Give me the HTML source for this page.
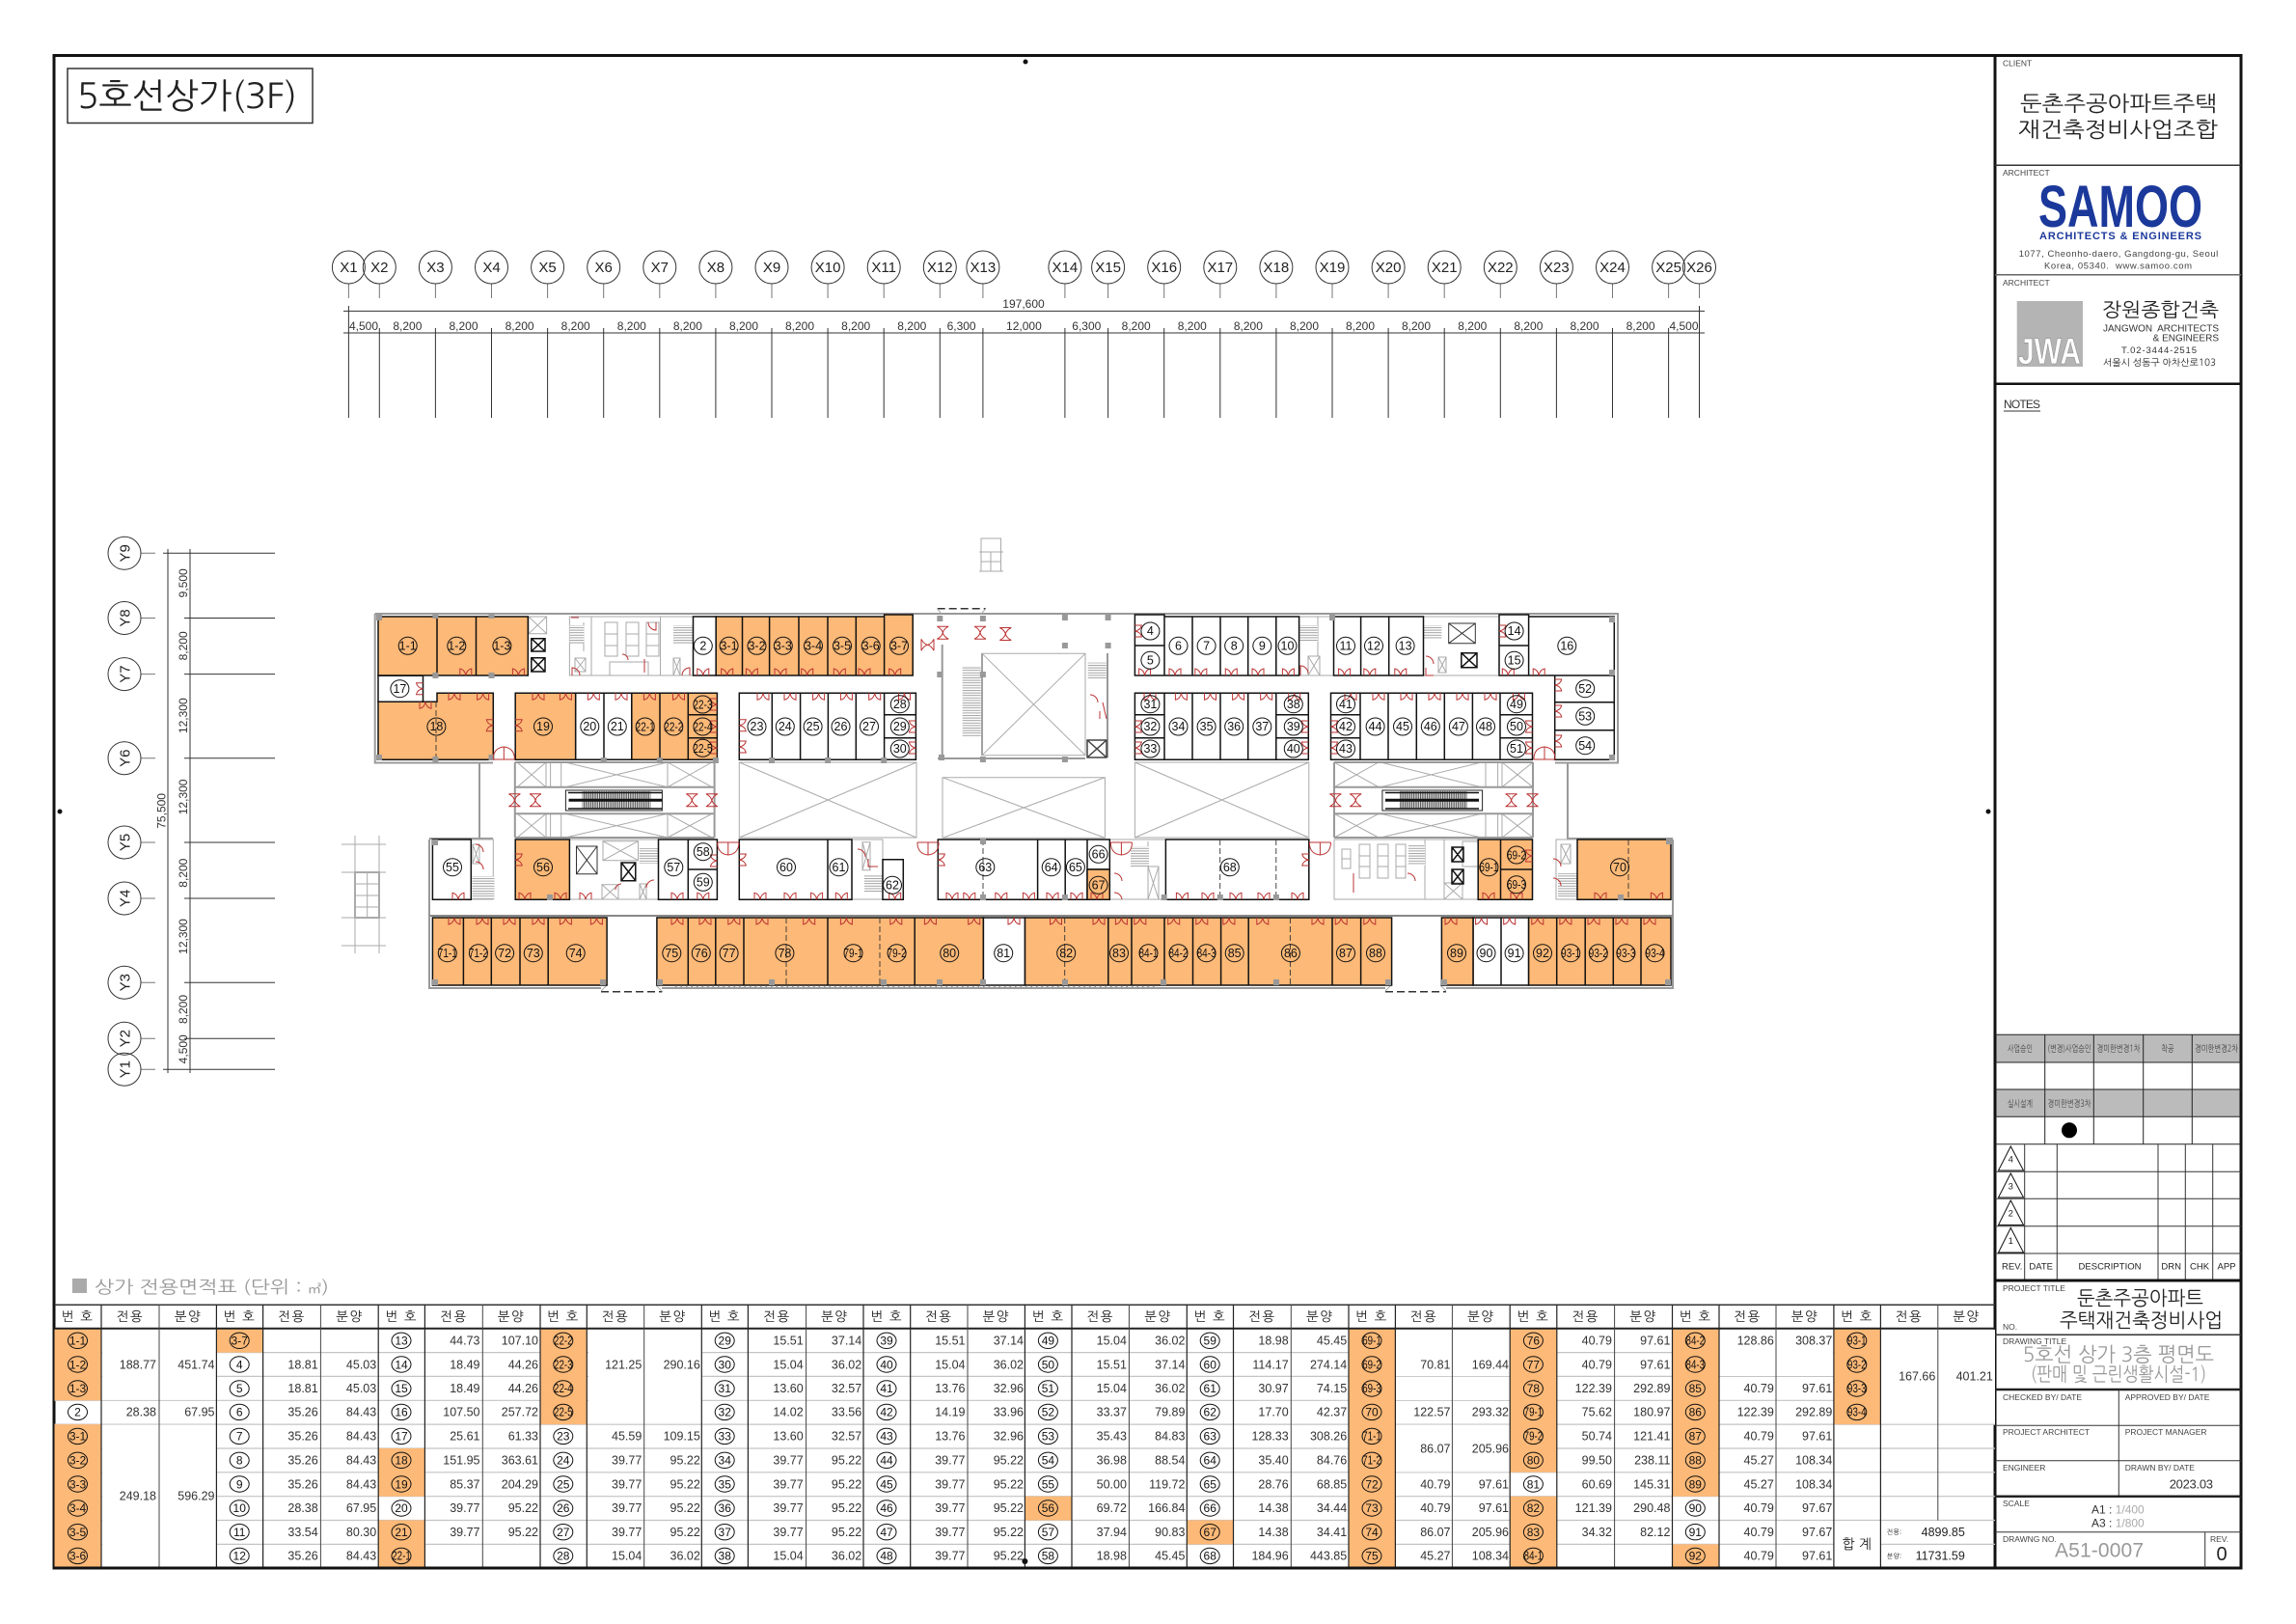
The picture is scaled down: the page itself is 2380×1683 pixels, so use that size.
<!DOCTYPE html>
<html lang="ko"><head><meta charset="utf-8"><title>5호선상가(3F)</title>
<style>
html,body{margin:0;padding:0;background:#fff}
svg{display:block}
text{font-family:"Liberation Sans","NanumGothic","Noto Sans CJK KR",sans-serif;fill:#222}
.k{font-family:"NanumGothic","Noto Sans CJK KR","Liberation Sans",sans-serif}
.g{stroke:#aaa;fill:none;stroke-width:1}
.g2{stroke:#999;fill:none;stroke-width:2}
.b{stroke:#333;fill:none;stroke-width:1}
.o{fill:#fdb977;stroke:#111;stroke-width:1.5}
.w{fill:#fff;stroke:#111;stroke-width:1.5}
.r{fill:none;stroke:#b33;stroke-width:1}
.d{fill:none;stroke:#333;stroke-width:.9;stroke-dasharray:6 3}
.n text{font-size:12.5px;text-anchor:middle;fill:#111}
.n .s{font-size:13px;transform:scaleX(.77);transform-box:fill-box;transform-origin:center}
.xb text{font-size:15px;text-anchor:middle;fill:#222}
.dm text{font-size:12px;text-anchor:middle;fill:#333}
.l text{font-size:12px;text-anchor:middle;fill:#111}
.l .s{font-size:12.5px;transform:scaleX(.78);transform-box:fill-box;transform-origin:center}
.v text{font-size:12.5px;text-anchor:end;fill:#333}
.h{font-size:13.5px;text-anchor:middle;fill:#222;letter-spacing:1.5px}
.t{font-size:8.5px;fill:#444}
.m{font-size:9.5px;text-anchor:middle;fill:#444}
</style></head><body>
<svg xmlns="http://www.w3.org/2000/svg" width="2380" height="1683" viewBox="0 0 2380 1683">
<defs>
<ellipse id="c" rx="9.5" ry="9" fill="none" stroke="#111" stroke-width="1"/>
<ellipse id="e" rx="10" ry="8.2" fill="none" stroke="#111" stroke-width="1"/>
<g id="ten"><use href="#e" y="1389.3"/><use href="#e" y="1414"/><use href="#e" y="1439"/><use href="#e" y="1463.4"/><use href="#e" y="1488.4"/><use href="#e" y="1513.3"/><use href="#e" y="1538"/><use href="#e" y="1563"/><use href="#e" y="1587.7"/><use href="#e" y="1612.4"/></g>
<path id="D" class="r" d="M-6 0V-7Q-1-6 0 0Q1-6 6-7V0"/>
<path id="U" class="r" d="M-6 0V7Q-1 6 0 0Q1 6 6 7V0"/>
<path id="W" class="r" d="M-11 0H11M-11 0V-2Q-10-12 0-13V0M11 0V-2Q10-12 0-13"/>
<path id="W2" class="r" d="M-11 0H11M-11 0V2Q-10 12 0 13V0M11 0V2Q10 12 0 13"/>
<path id="B" class="r" d="M-6-6.5H6M-6 6.5H6M-6-6.5Q-1-4 0 0Q1 4 6 6.5M6-6.5Q1-4 0 0Q-1 4-6 6.5"/>
<rect id="p" x="-3" y="-3" width="6" height="6" fill="#999"/>
<pattern id="hs" width="4" height="2.6" patternUnits="userSpaceOnUse"><rect width="4" height="2.6" fill="#fff"/><path d="M0 .5H4" stroke="#999" stroke-width=".9"/></pattern>
<pattern id="vs" width="2.3" height="4" patternUnits="userSpaceOnUse"><rect width="2.3" height="4" fill="#ddd"/><path d="M.6 0V4" stroke="#444" stroke-width="1"/></pattern>
</defs>

<!-- frame -->
<rect x="56" y="57.5" width="2267" height="1567.5" fill="#fff" stroke="#111" stroke-width="3"/>
<path d="M2068 57V1625" stroke="#111" stroke-width="3"/>
<circle cx="1063" cy="64" r="2.5" fill="#111"/><circle cx="62" cy="841" r="2.5" fill="#111"/><circle cx="2061" cy="841" r="2.5" fill="#111"/>

<!-- title -->
<rect x="70" y="71" width="254" height="56.5" fill="#fff" stroke="#333" stroke-width="1.5"/>
<text x="80" y="112" font-size="36" textLength="228" lengthAdjust="spacingAndGlyphs" class="k">5호선상가(3F)</text>

<!-- X grid -->
<g class="b">
<path d="M361.4 294V309M393.3 294V309M451.4 294V309M509.5 294V309M567.6 294V309M625.7 294V309M683.8 294V309M741.9 294V309M800 294V309M858.1 294V309M916.2 294V309M974.3 294V309M1018.9 294V309M1103.9 294V309M1148.6 294V309M1206.7 294V309M1264.8 294V309M1322.9 294V309M1381 294V309M1439.1 294V309M1497.2 294V309M1555.3 294V309M1613.4 294V309M1671.5 294V309M1729.6 294V309M1761.5 294V309" stroke="#777"/>
<path d="M356 322.4H1767M356 345H1767"/>
<path d="M361.4 317V433M1761.5 317V433M393.3 340V433M451.4 340V433M509.5 340V433M567.6 340V433M625.7 340V433M683.8 340V433M741.9 340V433M800 340V433M858.1 340V433M916.2 340V433M974.3 340V433M1018.9 340V433M1103.9 340V433M1148.6 340V433M1206.7 340V433M1264.8 340V433M1322.9 340V433M1381 340V433M1439.1 340V433M1497.2 340V433M1555.3 340V433M1613.4 340V433M1671.5 340V433M1729.6 340V433"/>
</g>
<g fill="#fff" stroke="#333" stroke-width="1"><circle cx="361.4" cy="277" r="17"/><circle cx="393.3" cy="277" r="17" fill="none"/><circle cx="451.4" cy="277" r="17"/><circle cx="509.5" cy="277" r="17"/><circle cx="567.6" cy="277" r="17"/><circle cx="625.7" cy="277" r="17"/><circle cx="683.8" cy="277" r="17"/><circle cx="741.9" cy="277" r="17"/><circle cx="800" cy="277" r="17"/><circle cx="858.1" cy="277" r="17"/><circle cx="916.2" cy="277" r="17"/><circle cx="974.3" cy="277" r="17"/><circle cx="1018.9" cy="277" r="17"/><circle cx="1103.9" cy="277" r="17"/><circle cx="1148.6" cy="277" r="17"/><circle cx="1206.7" cy="277" r="17"/><circle cx="1264.8" cy="277" r="17"/><circle cx="1322.9" cy="277" r="17"/><circle cx="1381" cy="277" r="17"/><circle cx="1439.1" cy="277" r="17"/><circle cx="1497.2" cy="277" r="17"/><circle cx="1555.3" cy="277" r="17"/><circle cx="1613.4" cy="277" r="17"/><circle cx="1671.5" cy="277" r="17"/><circle cx="1729.6" cy="277" r="17"/><circle cx="1761.5" cy="277" r="17" fill="none"/></g>
<g class="xb"><text x="361.4" y="282">X1</text><text x="393.3" y="282">X2</text><text x="451.4" y="282">X3</text><text x="509.5" y="282">X4</text><text x="567.6" y="282">X5</text><text x="625.7" y="282">X6</text><text x="683.8" y="282">X7</text><text x="741.9" y="282">X8</text><text x="800" y="282">X9</text><text x="858.1" y="282">X10</text><text x="916.2" y="282">X11</text><text x="974.3" y="282">X12</text><text x="1018.9" y="282">X13</text><text x="1103.9" y="282">X14</text><text x="1148.6" y="282">X15</text><text x="1206.7" y="282">X16</text><text x="1264.8" y="282">X17</text><text x="1322.9" y="282">X18</text><text x="1381" y="282">X19</text><text x="1439.1" y="282">X20</text><text x="1497.2" y="282">X21</text><text x="1555.3" y="282">X22</text><text x="1613.4" y="282">X23</text><text x="1671.5" y="282">X24</text><text x="1729.6" y="282">X25</text><text x="1761.5" y="282">X26</text></g>
<g class="dm"><text x="1061" y="319">197,600</text><text x="377" y="342">4,500</text><text x="422.4" y="342">8,200</text><text x="480.5" y="342">8,200</text><text x="538.6" y="342">8,200</text><text x="596.7" y="342">8,200</text><text x="654.8" y="342">8,200</text><text x="712.9" y="342">8,200</text><text x="771" y="342">8,200</text><text x="829" y="342">8,200</text><text x="887.2" y="342">8,200</text><text x="945.3" y="342">8,200</text><text x="996.6" y="342">6,300</text><text x="1061.4" y="342">12,000</text><text x="1126.3" y="342">6,300</text><text x="1177.7" y="342">8,200</text><text x="1235.8" y="342">8,200</text><text x="1293.9" y="342">8,200</text><text x="1352" y="342">8,200</text><text x="1410" y="342">8,200</text><text x="1468" y="342">8,200</text><text x="1526.3" y="342">8,200</text><text x="1584.4" y="342">8,200</text><text x="1642.5" y="342">8,200</text><text x="1700.6" y="342">8,200</text><text x="1745.5" y="342">4,500</text></g>

<!-- Y grid -->
<g class="b"><path d="M191 573.3H285M191 640.5H285M191 698.6H285M191 785.7H285M191 873H285M191 931H285M191 1018.2H285M191 1076.2H285M169 1108.2H285M169 573.3H191M197 569V1112M174 569V1112"/>
<path d="M146 573.3H161M146 640.5H161M146 698.6H161M146 785.7H161M146 873H161M146 931H161M146 1018.2H161M146 1076.2H161M146 1108.2H161" stroke="#777"/></g>
<g fill="#fff" stroke="#333"><circle cx="129" cy="573.3" r="17"/><circle cx="129" cy="640.5" r="17"/><circle cx="129" cy="698.6" r="17"/><circle cx="129" cy="785.7" r="17"/><circle cx="129" cy="873" r="17"/><circle cx="129" cy="931" r="17"/><circle cx="129" cy="1018.2" r="17"/><circle cx="129" cy="1076.2" r="17"/><circle cx="129" cy="1108.2" r="17" fill="none"/></g>
<g class="xb"><text transform="translate(134.5 573.3) rotate(-90)">Y9</text><text transform="translate(134.5 640.5) rotate(-90)">Y8</text><text transform="translate(134.5 698.6) rotate(-90)">Y7</text><text transform="translate(134.5 785.7) rotate(-90)">Y6</text><text transform="translate(134.5 873) rotate(-90)">Y5</text><text transform="translate(134.5 931) rotate(-90)">Y4</text><text transform="translate(134.5 1018.2) rotate(-90)">Y3</text><text transform="translate(134.5 1076.2) rotate(-90)">Y2</text><text transform="translate(134.5 1108.2) rotate(-90)">Y1</text></g>
<g class="dm"><text transform="translate(194 604.3) rotate(-90)">9,500</text><text transform="translate(194 669.4) rotate(-90)">8,200</text><text transform="translate(194 741.7) rotate(-90)">12,300</text><text transform="translate(194 825.9) rotate(-90)">12,300</text><text transform="translate(194 904.7) rotate(-90)">8,200</text><text transform="translate(194 970.5) rotate(-90)">12,300</text><text transform="translate(194 1046) rotate(-90)">8,200</text><text transform="translate(194 1087.3) rotate(-90)">4,500</text><text transform="translate(171.5 840.4) rotate(-90)">75,500</text></g>

<!-- small structures -->
<g class="g"><path d="M368 866V988M393 866V988M354 875H400M354 980H400M354 904H400M354 951H400"/><path d="M380.7 904V951M368 916H393M368 928H393M368 940H393"/><rect x="368" y="904" width="25" height="47" stroke-width="2"/>
<path d="M1017 558H1037.5V592H1017ZM1015 572H1040M1015 592H1040M1027 572V592M1017 582H1037"/></g>

<!-- building outline -->
<g class="g2">
<path d="M388.7 636H1677V790.5H1612M511 790.5H388.7V636"/>
<path d="M497 790V870M1625 790V870M445 870V1024H623M686 1024H1436M1499 1024H1734V870M1625 869H1734M445 869H511"/>
<path d="M445 949H1734" stroke="#888"/>
<path d="M976.7 668V785M1018 677V783M1148 677V785M972 786H1125"/>
</g>
<path d="M623 1027.7H686.4M1436 1027.7H1499M971.7 630.7H1021.7" stroke="#333" stroke-width="1.5" stroke-dasharray="8 4"/>
<path d="M629 1021L623 1027M680 1021L686 1027M1442 1021L1436 1027M1493 1021L1499 1027M976 636L971.7 631M1017 636L1021.7 631" class="g"/>

<!-- atria -->
<g class="g">
<path d="M766.3 790H950V868H766.3ZM766.3 790L950 868M950 790L766.3 868"/>
<path d="M977 805.7H1145.4V868.3H977ZM977 805.7L1145.4 868.3M1145.4 805.7L977 868.3"/>
<path d="M1176.4 790H1356.8V868H1176.4ZM1176.4 790L1356.8 868M1356.8 790L1176.4 868"/>
<path d="M1018 677.3H1125V782.7H1018ZM1018 677.3L1125 782.7M1125 677.3L1018 782.7"/>
<path d="M536 790L566 815.7M566 790L536 815.7M536 843.3L566 868M566 843.3L536 868M586 790L692 815.7M692 790L586 815.7M586 843.3L692 868M692 843.3L586 868M692 790L738 815.7M738 790L692 815.7M692 843.3L738 868M738 843.3L692 868M566 790V816M570.6 790V816M581.7 790V816M566 843V868M570.6 843V868M581.7 843V868M692 790V816M692 843V868"/>
<path d="M1383 790L1429 815.7M1429 790L1383 815.7M1383 843.3L1429 868M1429 843.3L1383 868M1431 790L1535.6 815.7M1535.6 790L1431 815.7M1431 843.3L1535.6 868M1535.6 843.3L1431 868M1557 790L1589 815.7M1589 790L1557 815.7M1557 843.3L1589 868M1589 843.3L1557 868M1540 790V816M1552.6 790V816M1557 790V816M1540 843V868M1552.6 843V868M1557 843V868"/>
</g>
<g class="g2">
<path d="M533.8 790H740.6M533.8 815.7H740.6M533.8 843.3H740.6M533.8 868H740.6M533.8 790V868M740.6 790V868"/>
<path d="M1383 790H1589M1383 815.7H1589M1383 843.3H1589M1383 868H1589M1383 790V868M1589 790V868"/>
</g>
<!-- escalators -->
<rect x="586.4" y="819" width="100" height="21" fill="#fff" stroke="#222"/><rect x="603.4" y="820" width="71" height="18" fill="url(#vs)"/><path d="M589.6 829.3H686.4M589 821.5H686M589 838H686" stroke="#111" stroke-width="1.5"/><path d="M589.6 829.3H686.4" stroke="#111" stroke-width="3"/>
<rect x="1432.9" y="819" width="103.7" height="21" fill="#fff" stroke="#222"/><rect x="1450.8" y="820" width="70" height="18" fill="url(#vs)"/><path d="M1436 829.3H1533M1436 821.5H1533M1436 838H1533" stroke="#111" stroke-width="1.5"/><path d="M1436 829.3H1533" stroke="#111" stroke-width="3"/>

<!-- core details -->
<g class="g">
<path d="M548 639H566.6V656.7H548ZM548 639L566.6 656.7M566.6 639L548 656.7"/>
<path d="M590.4 639H718.5V700H590.4ZM613 639V700M684.5 639V700"/>
<path d="M627 645H640V680H627ZM649 645H662V680H649ZM670 645H683V680H670ZM627 657H640M627 669H640M649 657H662M649 669H662M670 657H683M670 669H683"/>
<path d="M605 645V675M596 682H607V696H596ZM596 682L607 696M607 682L596 696M698 682H705V700H698ZM698 682L705 700M705 682L698 700M632 686H672V700H632Z"/>
<path d="M625 871.7H661.5V891.7H625ZM625 871.7L661.5 891.7M661.5 871.7L625 891.7M624 916.7H641V932H624ZM624 916.7L641 932M641 916.7L624 932M663 916H670V932H663ZM663 916L670 932M670 916L663 932M590.4 870H682.5V932H590.4Z"/>
<path d="M488.3 870H511.3V932H488.3ZM490 875H497V895H490ZM490 875L497 895M497 875L490 895"/>
<path d="M883 870H915V932H883ZM894 872.7H902V901.7H894ZM894 872.7L902 901.7M902 872.7L894 901.7"/>
<path d="M1346.6 639H1382.5V700H1346.6ZM1356 680H1368V700H1356ZM1356 680L1368 700M1368 680L1356 700M1366 639V680"/>
<path d="M1475.5 639H1554V700H1475.5ZM1491 681H1499V697H1491ZM1491 681L1499 697M1499 681L1491 697"/>
<path d="M1150.3 870H1208.4V932H1150.3ZM1190 872V932M1190 898H1201V932H1190ZM1190 898L1201 932M1201 898L1190 932"/>
<path d="M1383 870H1532.2V932H1383ZM1497 870V932M1477 870V932M1391 880H1400V900H1391ZM1409 875H1420V910H1409ZM1428 875H1439V910H1428ZM1447 875H1457V910H1447ZM1409 887H1420M1409 898H1420M1428 887H1439M1428 898H1439M1447 887H1457M1447 898H1457M1391 890H1400"/>
<path d="M1497 915H1516V932H1497ZM1497 915L1516 932M1516 915L1497 932M1516 872H1532V898H1516Z"/>
<path d="M1613 870H1635V932H1613ZM1618 875H1628V895H1618ZM1618 875L1628 895M1628 875L1618 895"/>
</g>
<rect x="590.4" y="648" width="15" height="18.7" fill="url(#hs)"/><rect x="698" y="648" width="20" height="18.7" fill="url(#hs)"/>
<rect x="662.7" y="879" width="19.8" height="16" fill="url(#hs)"/><rect x="489.5" y="908" width="23" height="23.7" fill="url(#hs)"/>
<rect x="896" y="906.7" width="19" height="18.3" fill="url(#hs)"/><rect x="1347" y="648" width="19" height="17" fill="url(#hs)"/><rect x="1476" y="648" width="18.4" height="15" fill="url(#hs)"/>
<rect x="997.7" y="690" width="19" height="73.3" fill="url(#hs)"/><rect x="1127.7" y="686.7" width="19" height="16.3" fill="url(#hs)"/>
<rect x="1172" y="877" width="19" height="21" fill="url(#hs)"/><rect x="1460" y="875" width="17" height="22" fill="url(#hs)"/><rect x="1615" y="905" width="20" height="25" fill="url(#hs)"/>
<g class="b">
<path d="M550.8 661.7H565V675H550.8ZM550.8 661.7L565 675M565 661.7L550.8 675M550.8 681.7H565V696H550.8ZM550.8 681.7L565 696M565 681.7L550.8 696" stroke="#111" stroke-width="1.5"/>
<path d="M597.5 877H619V905.7H597.5ZM597.5 877L619 905.7M619 877L597.5 905.7" stroke="#333"/>
<path d="M644 894H658.8V912.7H644ZM644 894L658.8 912.7M658.8 894L644 912.7" stroke="#111" stroke-width="1.5"/>
<path d="M1501.7 646H1529.3V666.7H1501.7ZM1501.7 646L1529.3 666.7M1529.3 646L1501.7 666.7" stroke="#333"/>
<path d="M1514.8 676.7H1531V691.7H1514.8ZM1514.8 676.7L1531 691.7M1531 676.7L1514.8 691.7" stroke="#111" stroke-width="1.5"/>
<path d="M1127 767H1147V785H1127ZM1127 767L1147 785M1147 767L1127 785" stroke="#444" stroke-width="1.5"/>
<path d="M1505 878H1517V893H1505ZM1505 878L1517 893M1517 878L1505 893M1505 901H1517V916H1505ZM1505 901L1517 916M1517 901L1505 916" stroke="#111" stroke-width="1.5"/>
</g>

<!-- rooms -->
<path class="o" d="M392 639H453V700H392ZM453 639H493.5V700H453ZM493.5 639H547.3V700H493.5Z"/>
<path class="w" d="M392 700.3H438.5V727.3H392ZM718.5 639H742.2V700H718.5Z"/>
<path class="o" d="M392 727.3H453V718.3H511.3V787.3H392ZM534.2 718.3H596.7V787.3H534.2Z"/>
<path class="w" d="M596.7 718.3H626V787.3H596.7ZM626 718.3H654.8V787.3H626Z"/>
<path class="o" d="M654.8 718.3H684V787.3H654.8ZM684 718.3H713.3V787.3H684ZM713.3 718.3H743.4V740.7H713.3ZM713.3 740.7H743.4V764.7H713.3ZM713.3 764.7H743.4V787.3H713.3Z"/>
<path class="w" d="M766.3 718.3H800.3V787.3H766.3ZM800.3 718.3H829.6V787.3H800.3ZM829.6 718.3H858.4V787.3H829.6ZM858.4 718.3H887.3V787.3H858.4ZM887.3 718.3H916.6V787.3H887.3ZM916.6 718.3H949.4V740.7H916.6ZM916.6 740.7H949.4V764.7H916.6ZM916.6 764.7H949.4V787.3H916.6Z"/>
<path class="o" d="M742.2 639H769.5V700H742.2ZM769.5 639H797.6V700H769.5ZM797.6 639H828V700H797.6ZM828 639H858V700H828ZM858 639H887.3V700H858ZM887.3 639H916.6V700H887.3ZM916.6 637H946.2V700H916.6Z"/>
<path class="w" d="M1176.4 637H1207V669H1176.4ZM1176.4 669H1207V700H1176.4ZM1207 639H1236V700H1207ZM1236 639H1265V700H1236ZM1265 639H1293.7V700H1265ZM1293.7 639H1322.8V700H1293.7ZM1322.8 639H1346.6V700H1322.8ZM1382.5 639H1410.6V700H1382.5ZM1410.6 639H1439.7V700H1410.6ZM1439.7 639H1475.5V700H1439.7ZM1554 637H1584.6V669H1554ZM1554 669H1584.6V700H1554ZM1584.6 639H1673.3V700H1584.6ZM1611.7 700H1673.3V727.7H1611.7ZM1611.7 727.7H1673.3V756.7H1611.7ZM1611.7 756.7H1673.3V787.3H1611.7Z"/>
<path class="w" d="M1176.4 718.3H1207V740.7H1176.4ZM1176.4 740.7H1207V764.7H1176.4ZM1176.4 764.7H1207V787.3H1176.4ZM1207 718.3H1236V787.3H1207ZM1236 718.3H1265V787.3H1236ZM1265 718.3H1293.7V787.3H1265ZM1293.7 718.3H1322.8V787.3H1293.7ZM1322.8 718.3H1356.3V740.7H1322.8ZM1322.8 740.7H1356.3V764.7H1322.8ZM1322.8 764.7H1356.3V787.3H1322.8ZM1379.5 718.3H1410V740.7H1379.5ZM1379.5 740.7H1410V764.7H1379.5ZM1379.5 764.7H1410V787.3H1379.5ZM1410 718.3H1439V787.3H1410ZM1439 718.3H1468.3V787.3H1439ZM1468.3 718.3H1497.3V787.3H1468.3ZM1497.3 718.3H1526.4V787.3H1497.3ZM1526.4 718.3H1555V787.3H1526.4ZM1555 718.3H1588.5V740.7H1555ZM1555 740.7H1588.5V764.7H1555ZM1555 764.7H1588.5V787.3H1555Z"/>
<path class="w" d="M448.4 870H488.3V932.3H448.4ZM682.5 870H713.3V932.3H682.5ZM713.3 870H743.4V901H713.3ZM713.3 901H743.4V932.3H713.3ZM766.3 870H858V932.3H766.3ZM858 870H883V932.3H858ZM915 890.7H936.3V932.3H915ZM972.3 870H1075.6V932.3H972.3ZM1075.6 870H1104.2V932.3H1075.6ZM1104.2 870H1127V932.3H1104.2ZM1127 870H1150.3V901H1127ZM1208.4 870H1356.8V932.3H1208.4Z"/>
<path class="o" d="M534.2 870H590.4V932.3H534.2ZM1127 901H1150.3V932.3H1127ZM1532.2 870H1555.5V932.3H1532.2ZM1555.5 870H1588.5V901H1555.5ZM1555.5 901H1588.5V932.3H1555.5ZM1635 870H1732V932.3H1635Z"/>
<path class="o" d="M448.4 951H480.4V1021H448.4ZM480.4 951H509.3V1021H480.4ZM509.3 951H539V1021H509.3ZM539 951H568.2V1021H539ZM568.2 951H629.1V1021H568.2ZM680.9 951H713.3V1021H680.9ZM713.3 951H741.8V1021H713.3ZM741.8 951H771V1021H741.8ZM771 951H858V1021H771ZM858 951H948.2V1021H858ZM948.2 951H1019.4V1021H948.2Z"/>
<path class="w" d="M1019.4 951H1062.5V1021H1019.4ZM1527 951H1556V1021H1527ZM1556 951H1584.6V1021H1556Z"/>
<path class="o" d="M1062.5 951H1148.8V1021H1062.5ZM1148.8 951H1173V1021H1148.8ZM1173 951H1207V1021H1173ZM1207 951H1236.5V1021H1207ZM1236.5 951H1265.6V1021H1236.5ZM1265.6 951H1294.2V1021H1265.6ZM1294.2 951H1381V1021H1294.2ZM1381 951H1410.6V1021H1381ZM1410.6 951H1442.6V1021H1410.6ZM1494.4 951H1527V1021H1494.4ZM1584.6 951H1613.7V1021H1584.6ZM1613.7 951H1643.2V1021H1613.7ZM1643.2 951H1672.3V1021H1643.2ZM1672.3 951H1701V1021H1672.3ZM1701 951H1732V1021H1701Z"/>
<path class="d" d="M452 727V787M912 951V1021M815 951V1021M1103.7 951V1021M1337.4 951V1021M1019 870V932M1264.7 870V932M1322.8 870V932M1688 870V932"/>

<!-- pillars -->
<g><use href="#p" x="393" y="640"/><use href="#p" x="451.4" y="638"/><use href="#p" x="509.5" y="638"/><use href="#p" x="451.4" y="700"/><use href="#p" x="509.5" y="700"/><use href="#p" x="393" y="785"/><use href="#p" x="451.4" y="787"/><use href="#p" x="509.5" y="785"/><use href="#p" x="625.7" y="788"/><use href="#p" x="683.8" y="788"/><use href="#p" x="741.9" y="788"/><use href="#p" x="800" y="788"/><use href="#p" x="858.1" y="788"/><use href="#p" x="916.2" y="788"/><use href="#p" x="974.3" y="641"/><use href="#p" x="1018.9" y="641"/><use href="#p" x="1103.9" y="640"/><use href="#p" x="1148.6" y="640"/><use href="#p" x="1103.9" y="669"/><use href="#p" x="1148.6" y="669"/><use href="#p" x="974.3" y="699"/><use href="#p" x="1018.9" y="699"/><use href="#p" x="976" y="785"/><use href="#p" x="1018.9" y="787"/><use href="#p" x="1103.9" y="787"/><use href="#p" x="451" y="873"/><use href="#p" x="570" y="930"/><use href="#p" x="1206.7" y="930"/><use href="#p" x="1264.8" y="930"/><use href="#p" x="1322.9" y="930"/><use href="#p" x="1019" y="930"/><use href="#p" x="1103.9" y="930"/><use href="#p" x="1019" y="872"/><use href="#p" x="1381" y="640"/><use href="#p" x="1671" y="642"/><use href="#p" x="1671" y="697"/><use href="#p" x="1671" y="785"/><use href="#p" x="1730" y="872"/><use href="#p" x="1680" y="930"/><use href="#p" x="451" y="1018"/><use href="#p" x="625" y="1018"/><use href="#p" x="684" y="1018"/><use href="#p" x="800" y="1018"/><use href="#p" x="916" y="1018"/><use href="#p" x="974" y="1018"/><use href="#p" x="1019" y="1018"/><use href="#p" x="1104" y="1018"/><use href="#p" x="1206" y="1018"/><use href="#p" x="1323" y="1018"/><use href="#p" x="1439" y="1018"/><use href="#p" x="1497" y="1018"/><use href="#p" x="1729" y="1018"/></g>
<path d="M700 1023H1200" stroke="#999" stroke-width="3" stroke-dasharray="1.5 4" fill="none"/>

<!-- doors -->
<g>
<use href="#D" x="482.8" y="700"/><use href="#D" x="537.4" y="700"/><use href="#D" x="728.8" y="700"/><use href="#D" x="753.7" y="700"/><use href="#D" x="779.4" y="700"/><use href="#D" x="809" y="700"/><use href="#D" x="836.7" y="700"/><use href="#D" x="870.3" y="700"/><use href="#D" x="896" y="700"/><use href="#D" x="927.7" y="700"/><use href="#D" x="1186.6" y="700"/><use href="#D" x="1218" y="700"/><use href="#D" x="1244.8" y="700"/><use href="#D" x="1276.3" y="700"/><use href="#D" x="1304" y="700"/><use href="#D" x="1335.4" y="700"/><use href="#D" x="1393.6" y="700"/><use href="#D" x="1419.8" y="700"/><use href="#D" x="1451.8" y="700"/><use href="#D" x="1563.3" y="700"/><use href="#D" x="1595.2" y="700"/>
<use href="#U" x="471" y="718.3"/><use href="#U" x="500.6" y="718.3"/><use href="#U" x="558" y="718.3"/><use href="#U" x="586.4" y="718.3"/><use href="#U" x="615.3" y="718.3"/><use href="#U" x="644" y="718.3"/><use href="#U" x="673.4" y="718.3"/><use href="#U" x="703.5" y="718.3"/><use href="#U" x="791" y="718.3"/><use href="#U" x="819" y="718.3"/><use href="#U" x="848.6" y="718.3"/><use href="#U" x="877.4" y="718.3"/><use href="#U" x="906.7" y="718.3"/><use href="#U" x="937.5" y="718.3"/><use href="#U" x="1192" y="718.3"/><use href="#U" x="1224.4" y="718.3"/><use href="#U" x="1254.5" y="718.3"/><use href="#U" x="1283.6" y="718.3"/><use href="#U" x="1312.7" y="718.3"/><use href="#U" x="1341.7" y="718.3"/><use href="#U" x="1400" y="718.3"/><use href="#U" x="1429" y="718.3"/><use href="#U" x="1458" y="718.3"/><use href="#U" x="1487" y="718.3"/><use href="#U" x="1516" y="718.3"/><use href="#U" x="1545" y="718.3"/><use href="#U" x="1574.4" y="718.3"/><use href="#U" x="441" y="727.3"/>
<use href="#D" x="475" y="932.3"/><use href="#D" x="544" y="932.3"/><use href="#D" x="581" y="932.3"/><use href="#D" x="607" y="932.3"/><use href="#D" x="702" y="932.3"/><use href="#D" x="728.8" y="932.3"/><use href="#D" x="788" y="932.3"/><use href="#D" x="819" y="932.3"/><use href="#D" x="846.6" y="932.3"/><use href="#D" x="872.3" y="932.3"/><use href="#D" x="927.7" y="932.3"/><use href="#D" x="987" y="932.3"/><use href="#D" x="1004.8" y="932.3"/><use href="#D" x="1037.8" y="932.3"/><use href="#D" x="1066.4" y="932.3"/><use href="#D" x="1091" y="932.3"/><use href="#D" x="1116" y="932.3"/><use href="#D" x="1137" y="932.3"/><use href="#D" x="1225.4" y="932.3"/><use href="#D" x="1252" y="932.3"/><use href="#D" x="1281" y="932.3"/><use href="#D" x="1310" y="932.3"/><use href="#D" x="1345" y="932.3"/><use href="#D" x="1543" y="932.3"/><use href="#D" x="1572" y="932.3"/><use href="#D" x="1659" y="932.3"/><use href="#D" x="1717.4" y="932.3"/>
<use href="#U" x="471" y="951"/><use href="#U" x="500" y="951"/><use href="#U" x="528" y="951"/><use href="#U" x="558" y="951"/><use href="#U" x="586.4" y="951"/><use href="#U" x="618.4" y="951"/><use href="#U" x="702" y="951"/><use href="#U" x="731" y="951"/><use href="#U" x="760.8" y="951"/><use href="#U" x="790" y="951"/><use href="#U" x="838.7" y="951"/><use href="#U" x="877.4" y="951"/><use href="#U" x="928.8" y="951"/><use href="#U" x="964.4" y="951"/><use href="#U" x="1009.7" y="951"/><use href="#U" x="1051" y="951"/><use href="#U" x="1094.5" y="951"/><use href="#U" x="1139" y="951"/><use href="#U" x="1162.4" y="951"/><use href="#U" x="1181.8" y="951"/><use href="#U" x="1216.7" y="951"/><use href="#U" x="1245.8" y="951"/><use href="#U" x="1273.9" y="951"/><use href="#U" x="1308.8" y="951"/><use href="#U" x="1366" y="951"/><use href="#U" x="1390.2" y="951"/><use href="#U" x="1419.8" y="951"/><use href="#U" x="1504" y="951"/><use href="#U" x="1535.6" y="951"/><use href="#U" x="1564.7" y="951"/><use href="#U" x="1593.8" y="951"/><use href="#U" x="1622.9" y="951"/><use href="#U" x="1652" y="951"/><use href="#U" x="1681" y="951"/><use href="#U" x="1710" y="951"/>
<use href="#D" transform="translate(438.5 713.7) rotate(-90)"/><use href="#D" transform="translate(511.3 751.7) rotate(-90)"/><use href="#D" transform="translate(534.2 751.7) rotate(90)"/><use href="#D" transform="translate(766.3 751.7) rotate(90)"/><use href="#D" transform="translate(766.3 774) rotate(90)"/><use href="#D" transform="translate(949.4 753) rotate(-90)"/><use href="#D" transform="translate(949.4 775) rotate(-90)"/><use href="#D" transform="translate(743.4 730) rotate(-90)"/><use href="#D" transform="translate(743.4 753) rotate(-90)"/><use href="#D" transform="translate(743.4 775) rotate(-90)"/><use href="#D" transform="translate(1176.4 654) rotate(90)"/><use href="#D" transform="translate(1176.4 753) rotate(90)"/><use href="#D" transform="translate(1176.4 775) rotate(90)"/><use href="#D" transform="translate(1356.3 753) rotate(-90)"/><use href="#D" transform="translate(1356.3 775) rotate(-90)"/><use href="#D" transform="translate(1379.5 753) rotate(90)"/><use href="#D" transform="translate(1379.5 775) rotate(90)"/><use href="#D" transform="translate(1588.5 753) rotate(-90)"/><use href="#D" transform="translate(1588.5 775) rotate(-90)"/><use href="#D" transform="translate(1554 654) rotate(90)"/><use href="#D" transform="translate(1611.7 710) rotate(90)"/><use href="#D" transform="translate(1611.7 737) rotate(90)"/><use href="#D" transform="translate(1611.7 768) rotate(90)"/><use href="#D" transform="translate(534.2 891) rotate(90)"/><use href="#D" transform="translate(743.4 892) rotate(-90)"/><use href="#D" transform="translate(766.3 891) rotate(90)"/><use href="#D" transform="translate(1356.8 891) rotate(-90)"/><use href="#D" transform="translate(1588.5 887) rotate(-90)"/><use href="#D" transform="translate(972.3 891) rotate(90)"/>
<use href="#W" x="522.3" y="787"/><use href="#W" x="1601" y="787"/><use href="#W2" x="754.8" y="873"/><use href="#W2" x="962" y="873"/><use href="#W2" x="1162.4" y="873"/><use href="#W2" x="1368.4" y="873"/><use href="#B" x="533.4" y="829.3"/><use href="#B" x="555" y="829.3"/><use href="#B" x="717.3" y="829.3"/><use href="#B" x="737.9" y="829.3"/><use href="#B" x="1384.4" y="829.3"/><use href="#B" x="1405.2" y="829.3"/><use href="#B" x="1566.6" y="829.3"/><use href="#B" x="1588.5" y="829.3"/><use href="#B" x="977.3" y="655.7"/><use href="#B" x="1016" y="655.7"/><use href="#B" x="1042.3" y="657"/><use href="#B" transform="translate(961.5 668.3) rotate(90)"/>
<path class="r" d="M593 700V692A8 8 0 0 1 601 700M715 700V692A8 8 0 0 0 707 700M600 640H592M645 678A6 6 0 0 1 651 684M680 645V653A8 8 0 0 1 672 645M668 683V697M1348 700V690A8 8 0 0 1 1356 698M1478 680A8 8 0 0 1 1486 688M1478 692V700H1486M493 875A8 8 0 0 1 501 883M493 893A8 8 0 0 1 501 901M638 922A6 6 0 0 1 644 916M678 912A8 8 0 0 0 670 920M889 880A8 8 0 0 1 897 888M900 890V898H910M1155 905A8 8 0 0 1 1163 913M1155 925A8 8 0 0 1 1163 932M1130 720A8 8 0 0 1 1138 728M1140 737V745M1143 728L1147 745M1610 890A8 8 0 0 1 1618 898M1610 910A8 8 0 0 1 1618 918M1459 905A8 8 0 0 1 1467 913M1403 905V925"/>
</g>

<!-- room labels -->
<g class="n">
<use href="#c" x="422.7" y="669.3"/><text x="422.7" y="673.5">1-1</text>
<use href="#c" x="473.3" y="669.3"/><text x="473.3" y="673.5">1-2</text>
<use href="#c" x="520.4" y="669.3"/><text x="520.4" y="673.5">1-3</text>
<use href="#c" x="728.8" y="669.3"/><text x="728.8" y="673.5">2</text>
<use href="#c" x="755.6" y="669.3"/><text x="755.6" y="673.5">3-1</text>
<use href="#c" x="784.5" y="669.3"/><text x="784.5" y="673.5">3-2</text>
<use href="#c" x="811.8" y="669.3"/><text x="811.8" y="673.5">3-3</text>
<use href="#c" x="843" y="669.3"/><text x="843" y="673.5">3-4</text>
<use href="#c" x="873" y="669.3"/><text x="873" y="673.5">3-5</text>
<use href="#c" x="902.7" y="669.3"/><text x="902.7" y="673.5">3-6</text>
<use href="#c" x="932" y="669.3"/><text x="932" y="673.5">3-7</text>
<use href="#c" x="1192.4" y="654"/><text x="1192.4" y="658.2">4</text>
<use href="#c" x="1192.4" y="684.3"/><text x="1192.4" y="688.5">5</text>
<use href="#c" x="1221.5" y="669.3"/><text x="1221.5" y="673.5">6</text>
<use href="#c" x="1250.6" y="669.3"/><text x="1250.6" y="673.5">7</text>
<use href="#c" x="1279.2" y="669.3"/><text x="1279.2" y="673.5">8</text>
<use href="#c" x="1308.3" y="669.3"/><text x="1308.3" y="673.5">9</text>
<use href="#c" x="1334.5" y="669.3"/><text x="1334.5" y="673.5">10</text>
<use href="#c" x="1395" y="669.3"/><text x="1395" y="673.5">11</text>
<use href="#c" x="1424" y="669.3"/><text x="1424" y="673.5">12</text>
<use href="#c" x="1456.6" y="669.3"/><text x="1456.6" y="673.5">13</text>
<use href="#c" x="1569.6" y="654"/><text x="1569.6" y="658.2">14</text>
<use href="#c" x="1569.6" y="684.3"/><text x="1569.6" y="688.5">15</text>
<use href="#c" x="1624.3" y="669.3"/><text x="1624.3" y="673.5">16</text>
<use href="#c" x="414.4" y="713.7"/><text x="414.4" y="717.9">17</text>
<use href="#c" x="452.4" y="753"/><text x="452.4" y="757.2">18</text>
<use href="#c" x="563" y="753"/><text x="563" y="757.2">19</text>
<use href="#c" x="611.3" y="753"/><text x="611.3" y="757.2">20</text>
<use href="#c" x="639.8" y="753"/><text x="639.8" y="757.2">21</text>
<use href="#c" x="668.7" y="753"/><text class="s" x="668.7" y="757.5">22-1</text>
<use href="#c" x="698.3" y="753"/><text class="s" x="698.3" y="757.5">22-2</text>
<use href="#c" x="728.4" y="730"/><text class="s" x="728.4" y="734.5">22-3</text>
<use href="#c" x="728.4" y="753"/><text class="s" x="728.4" y="757.5">22-4</text>
<use href="#c" x="728.4" y="775.3"/><text class="s" x="728.4" y="779.8">22-5</text>
<use href="#c" x="784.5" y="753"/><text x="784.5" y="757.2">23</text>
<use href="#c" x="813.8" y="753"/><text x="813.8" y="757.2">24</text>
<use href="#c" x="842.6" y="753"/><text x="842.6" y="757.2">25</text>
<use href="#c" x="871.5" y="753"/><text x="871.5" y="757.2">26</text>
<use href="#c" x="901" y="753"/><text x="901" y="757.2">27</text>
<use href="#c" x="932.8" y="729.7"/><text x="932.8" y="733.9">28</text>
<use href="#c" x="932.8" y="753"/><text x="932.8" y="757.2">29</text>
<use href="#c" x="932.8" y="776"/><text x="932.8" y="780.2">30</text>
<use href="#c" x="1192.4" y="729.7"/><text x="1192.4" y="733.9">31</text>
<use href="#c" x="1192.4" y="753"/><text x="1192.4" y="757.2">32</text>
<use href="#c" x="1192.4" y="776"/><text x="1192.4" y="780.2">33</text>
<use href="#c" x="1221.5" y="753"/><text x="1221.5" y="757.2">34</text>
<use href="#c" x="1250.6" y="753"/><text x="1250.6" y="757.2">35</text>
<use href="#c" x="1279.2" y="753"/><text x="1279.2" y="757.2">36</text>
<use href="#c" x="1308.3" y="753"/><text x="1308.3" y="757.2">37</text>
<use href="#c" x="1340.8" y="729.7"/><text x="1340.8" y="733.9">38</text>
<use href="#c" x="1340.8" y="753"/><text x="1340.8" y="757.2">39</text>
<use href="#c" x="1340.8" y="776"/><text x="1340.8" y="780.2">40</text>
<use href="#c" x="1395" y="729.7"/><text x="1395" y="733.9">41</text>
<use href="#c" x="1395" y="753"/><text x="1395" y="757.2">42</text>
<use href="#c" x="1395" y="776"/><text x="1395" y="780.2">43</text>
<use href="#c" x="1425.6" y="753"/><text x="1425.6" y="757.2">44</text>
<use href="#c" x="1454" y="753"/><text x="1454" y="757.2">45</text>
<use href="#c" x="1482.8" y="753"/><text x="1482.8" y="757.2">46</text>
<use href="#c" x="1511.9" y="753"/><text x="1511.9" y="757.2">47</text>
<use href="#c" x="1540" y="753"/><text x="1540" y="757.2">48</text>
<use href="#c" x="1572" y="729.7"/><text x="1572" y="733.9">49</text>
<use href="#c" x="1572" y="753"/><text x="1572" y="757.2">50</text>
<use href="#c" x="1572" y="776"/><text x="1572" y="780.2">51</text>
<use href="#c" x="1643.2" y="713.7"/><text x="1643.2" y="717.9">52</text>
<use href="#c" x="1643.2" y="742.3"/><text x="1643.2" y="746.5">53</text>
<use href="#c" x="1643.2" y="772.7"/><text x="1643.2" y="776.9">54</text>
<use href="#c" x="469" y="898.7"/><text x="469" y="902.9">55</text>
<use href="#c" x="563" y="898.7"/><text x="563" y="902.9">56</text>
<use href="#c" x="698.3" y="898.7"/><text x="698.3" y="902.9">57</text>
<use href="#c" x="728.8" y="882.7"/><text x="728.8" y="886.9">58</text>
<use href="#c" x="728.8" y="914.3"/><text x="728.8" y="918.5">59</text>
<use href="#c" x="815" y="898.7"/><text x="815" y="902.9">60</text>
<use href="#c" x="869.5" y="898.7"/><text x="869.5" y="902.9">61</text>
<use href="#c" x="925" y="917.3"/><text x="925" y="921.5">62</text>
<use href="#c" x="1021.3" y="898.7"/><text x="1021.3" y="902.9">63</text>
<use href="#c" x="1089.7" y="898.7"/><text x="1089.7" y="902.9">64</text>
<use href="#c" x="1114.9" y="898.7"/><text x="1114.9" y="902.9">65</text>
<use href="#c" x="1138.6" y="885.3"/><text x="1138.6" y="889.5">66</text>
<use href="#c" x="1138.6" y="917.3"/><text x="1138.6" y="921.5">67</text>
<use href="#c" x="1274.8" y="898.7"/><text x="1274.8" y="902.9">68</text>
<use href="#c" x="1543.4" y="898.7"/><text class="s" x="1543.4" y="903.2">69-1</text>
<use href="#c" x="1572" y="886"/><text class="s" x="1572" y="890.5">69-2</text>
<use href="#c" x="1572" y="916.7"/><text class="s" x="1572" y="921.2">69-3</text>
<use href="#c" x="1679" y="898.7"/><text x="1679" y="902.9">70</text>
<use href="#c" x="463.8" y="987.7"/><text class="s" x="463.8" y="992.2">71-1</text>
<use href="#c" x="495.9" y="987.7"/><text class="s" x="495.9" y="992.2">71-2</text>
<use href="#c" x="523.1" y="987.7"/><text x="523.1" y="991.9">72</text>
<use href="#c" x="552.8" y="987.7"/><text x="552.8" y="991.9">73</text>
<use href="#c" x="596.7" y="987.7"/><text x="596.7" y="991.9">74</text>
<use href="#c" x="696.3" y="987.7"/><text x="696.3" y="991.9">75</text>
<use href="#c" x="726.8" y="987.7"/><text x="726.8" y="991.9">76</text>
<use href="#c" x="755.6" y="987.7"/><text x="755.6" y="991.9">77</text>
<use href="#c" x="813.4" y="987.7"/><text x="813.4" y="991.9">78</text>
<use href="#c" x="884.5" y="987.7"/><text class="s" x="884.5" y="992.2">79-1</text>
<use href="#c" x="929.6" y="987.7"/><text class="s" x="929.6" y="992.2">79-2</text>
<use href="#c" x="984.2" y="987.7"/><text x="984.2" y="991.9">80</text>
<use href="#c" x="1040.2" y="987.7"/><text x="1040.2" y="991.9">81</text>
<use href="#c" x="1105.2" y="987.7"/><text x="1105.2" y="991.9">82</text>
<use href="#c" x="1160" y="987.7"/><text x="1160" y="991.9">83</text>
<use href="#c" x="1190.5" y="987.7"/><text class="s" x="1190.5" y="992.2">84-1</text>
<use href="#c" x="1221.5" y="987.7"/><text class="s" x="1221.5" y="992.2">84-2</text>
<use href="#c" x="1250.6" y="987.7"/><text class="s" x="1250.6" y="992.2">84-3</text>
<use href="#c" x="1279.7" y="987.7"/><text x="1279.7" y="991.9">85</text>
<use href="#c" x="1337.9" y="987.7"/><text x="1337.9" y="991.9">86</text>
<use href="#c" x="1395" y="987.7"/><text x="1395" y="991.9">87</text>
<use href="#c" x="1426" y="987.7"/><text x="1426" y="991.9">88</text>
<use href="#c" x="1510" y="987.7"/><text x="1510" y="991.9">89</text>
<use href="#c" x="1540.5" y="987.7"/><text x="1540.5" y="991.9">90</text>
<use href="#c" x="1569.6" y="987.7"/><text x="1569.6" y="991.9">91</text>
<use href="#c" x="1599" y="987.7"/><text x="1599" y="991.9">92</text>
<use href="#c" x="1628.2" y="987.7"/><text class="s" x="1628.2" y="992.2">93-1</text>
<use href="#c" x="1656.8" y="987.7"/><text class="s" x="1656.8" y="992.2">93-2</text>
<use href="#c" x="1685.4" y="987.7"/><text class="s" x="1685.4" y="992.2">93-3</text>
<use href="#c" x="1715.5" y="987.7"/><text class="s" x="1715.5" y="992.2">93-4</text>
</g>

<!-- table -->
<rect x="75" y="1325" width="15" height="15" fill="#aaa"/>
<text class="k" x="98" y="1340" font-size="18" style="fill:#999" textLength="243" lengthAdjust="spacingAndGlyphs">상가 전용면적표 (단위 : <tspan font-size="12">㎡</tspan>)</text>
<path d="M56.5 1401.6H2068M56.5 1426.4H2068M56.5 1451.3H2068M56.5 1476.1H2068M56.5 1501H2068M56.5 1525.8H2068M56.5 1550.7H2068M56.5 1575.5H2068M56.5 1600.4H2068" stroke="#c4c4c4" stroke-width="1.2" fill="none"/>
<g fill="#fff"><rect x="106" y="1378" width="118" height="72.8"/><rect x="106" y="1476.6" width="118" height="147"/><rect x="610" y="1378" width="117" height="97.6"/><rect x="1447" y="1378" width="118" height="48"/><rect x="1447" y="1426.9" width="118" height="24"/><rect x="1447" y="1476.6" width="118" height="48.7"/><rect x="1782" y="1378" width="118" height="48"/><rect x="1950" y="1378" width="118" height="97.6"/><rect x="1901" y="1576" width="48" height="48.5"/></g>
<path fill="#fdb977" d="M56.5 1376.7h48.3V1451.3h-48.3ZM56.5 1476.1h48.3V1625h-48.3ZM224.2 1376.7h48.3V1401.6h-48.3ZM392 1501h48.3V1550.7h-48.3ZM392 1575.5h48.3V1625h-48.3ZM559.8 1376.7h48.3V1476.1h-48.3ZM1062.4 1550.7h48.3V1575.5h-48.3ZM1230.2 1575.5h48.3V1600.4h-48.3ZM1398 1376.7h48.3V1625h-48.3ZM1565.4 1376.7h48.3V1525.8h-48.3ZM1565.4 1550.7h48.3V1625h-48.3ZM1733.3 1376.7h48.3V1550.7h-48.3ZM1733.3 1600.4h48.3V1625h-48.3ZM1900.8 1376.7h48.3V1476.1h-48.3Z"/>
<path d="M56.5 1352.3H2068" stroke="#333" stroke-width="1.5"/><path d="M56.5 1376.7H2068" stroke="#222" stroke-width="2"/>
<path d="M105 1352V1625M224.4 1352V1625M272.6 1352V1625M392.2 1352V1625M440.4 1352V1625M560 1352V1625M608.3 1352V1625M727.3 1352V1625M775.4 1352V1625M895 1352V1625M943.7 1352V1625M1062.4 1352V1625M1111 1352V1625M1230.3 1352V1625M1278.5 1352V1625M1398 1352V1625M1446.4 1352V1625M1565.2 1352V1625M1613.8 1352V1625M1733.5 1352V1625M1782 1352V1625M1900.9 1352V1625M1949.4 1352V1625" stroke="#222" stroke-width="1.2" fill="none"/>
<path d="M165 1352V1625M332.4 1352V1625M500.3 1352V1625M667.7 1352V1625M835.6 1352V1625M1003 1352V1625M1170.4 1352V1625M1338.3 1352V1625M1505.4 1352V1625M1673.6 1352V1625M1841 1352V1625M2008.8 1352V1575.5" stroke="#444" stroke-width="1" fill="none"/>
<path d="M56 1625H2068" stroke="#111" stroke-width="3"/>

<g><text class="h k" x="80.6" y="1369">번 호</text><text class="h k" x="135" y="1369">전용</text><text class="h k" x="195" y="1369">분양</text><text class="h k" x="248.5" y="1369">번 호</text><text class="h k" x="302.5" y="1369">전용</text><text class="h k" x="362.5" y="1369">분양</text><text class="h k" x="416.3" y="1369">번 호</text><text class="h k" x="470.5" y="1369">전용</text><text class="h k" x="530" y="1369">분양</text><text class="h k" x="584" y="1369">번 호</text><text class="h k" x="638" y="1369">전용</text><text class="h k" x="697.5" y="1369">분양</text><text class="h k" x="751.3" y="1369">번 호</text><text class="h k" x="805.5" y="1369">전용</text><text class="h k" x="865.3" y="1369">분양</text><text class="h k" x="919.3" y="1369">번 호</text><text class="h k" x="973.3" y="1369">전용</text><text class="h k" x="1032.7" y="1369">분양</text><text class="h k" x="1086.7" y="1369">번 호</text><text class="h k" x="1140.7" y="1369">전용</text><text class="h k" x="1200.4" y="1369">분양</text><text class="h k" x="1254.4" y="1369">번 호</text><text class="h k" x="1308.4" y="1369">전용</text><text class="h k" x="1368.2" y="1369">분양</text><text class="h k" x="1422" y="1369">번 호</text><text class="h k" x="1476" y="1369">전용</text><text class="h k" x="1535.3" y="1369">분양</text><text class="h k" x="1589.5" y="1369">번 호</text><text class="h k" x="1643.7" y="1369">전용</text><text class="h k" x="1703.5" y="1369">분양</text><text class="h k" x="1757.7" y="1369">번 호</text><text class="h k" x="1811.5" y="1369">전용</text><text class="h k" x="1871" y="1369">분양</text><text class="h k" x="1925" y="1369">번 호</text><text class="h k" x="1979" y="1369">전용</text><text class="h k" x="2038.4" y="1369">분양</text></g>

<!-- group 1 -->
<g transform="translate(56.5)"><use href="#ten" x="24"/>
<g class="l" transform="translate(24)"><text y="1393.4">1-1</text><text y="1418.3">1-2</text><text y="1443.2">1-3</text><text y="1467.6">2</text><text y="1492.6">3-1</text><text y="1517.5">3-2</text><text y="1542.3">3-3</text><text y="1567">3-4</text><text y="1592">3-5</text><text y="1616.6">3-6</text></g>
<g class="v" transform="translate(105.5)"><text y="1418.3">188.77</text><text y="1467.6">28.38</text><text y="1554.5">249.18</text></g>
<g class="v" transform="translate(166)"><text y="1418.3">451.74</text><text y="1467.6">67.95</text><text y="1554.5">596.29</text></g></g>
<!-- group 2 -->
<g transform="translate(224.2)"><use href="#ten" x="24"/>
<g class="l" transform="translate(24)"><text y="1393.4">3-7</text><text y="1418.3">4</text><text y="1443.2">5</text><text y="1467.6">6</text><text y="1492.6">7</text><text y="1517.5">8</text><text y="1542.3">9</text><text y="1567">10</text><text y="1592">11</text><text y="1616.6">12</text></g>
<g class="v" transform="translate(105.5)"><text y="1418.3">18.81</text><text y="1443.2">18.81</text><text y="1467.6">35.26</text><text y="1492.6">35.26</text><text y="1517.5">35.26</text><text y="1542.3">35.26</text><text y="1567">28.38</text><text y="1592">33.54</text><text y="1616.6">35.26</text></g>
<g class="v" transform="translate(166)"><text y="1418.3">45.03</text><text y="1443.2">45.03</text><text y="1467.6">84.43</text><text y="1492.6">84.43</text><text y="1517.5">84.43</text><text y="1542.3">84.43</text><text y="1567">67.95</text><text y="1592">80.30</text><text y="1616.6">84.43</text></g></g>
<!-- group 3 -->
<g transform="translate(392)"><use href="#ten" x="24"/>
<g class="l" transform="translate(24)"><text y="1393.4">13</text><text y="1418.3">14</text><text y="1443.2">15</text><text y="1467.6">16</text><text y="1492.6">17</text><text y="1517.5">18</text><text y="1542.3">19</text><text y="1567">20</text><text y="1592">21</text><text class="s" y="1616.6">22-1</text></g>
<g class="v" transform="translate(105.5)"><text y="1393.4">44.73</text><text y="1418.3">18.49</text><text y="1443.2">18.49</text><text y="1467.6">107.50</text><text y="1492.6">25.61</text><text y="1517.5">151.95</text><text y="1542.3">85.37</text><text y="1567">39.77</text><text y="1592">39.77</text></g>
<g class="v" transform="translate(166)"><text y="1393.4">107.10</text><text y="1418.3">44.26</text><text y="1443.2">44.26</text><text y="1467.6">257.72</text><text y="1492.6">61.33</text><text y="1517.5">363.61</text><text y="1542.3">204.29</text><text y="1567">95.22</text><text y="1592">95.22</text></g></g>
<!-- group 4 -->
<g transform="translate(559.8)"><use href="#ten" x="24"/>
<g class="l" transform="translate(24)"><text class="s" y="1393.4">22-2</text><text class="s" y="1418.3">22-3</text><text class="s" y="1443.2">22-4</text><text class="s" y="1467.6">22-5</text><text y="1492.6">23</text><text y="1517.5">24</text><text y="1542.3">25</text><text y="1567">26</text><text y="1592">27</text><text y="1616.6">28</text></g>
<g class="v" transform="translate(105.5)"><text y="1418.3">121.25</text><text y="1492.6">45.59</text><text y="1517.5">39.77</text><text y="1542.3">39.77</text><text y="1567">39.77</text><text y="1592">39.77</text><text y="1616.6">15.04</text></g>
<g class="v" transform="translate(166)"><text y="1418.3">290.16</text><text y="1492.6">109.15</text><text y="1517.5">95.22</text><text y="1542.3">95.22</text><text y="1567">95.22</text><text y="1592">95.22</text><text y="1616.6">36.02</text></g></g>
<!-- group 5 -->
<g transform="translate(727.2)"><use href="#ten" x="24"/>
<g class="l" transform="translate(24)"><text y="1393.4">29</text><text y="1418.3">30</text><text y="1443.2">31</text><text y="1467.6">32</text><text y="1492.6">33</text><text y="1517.5">34</text><text y="1542.3">35</text><text y="1567">36</text><text y="1592">37</text><text y="1616.6">38</text></g>
<g class="v" transform="translate(105.5)"><text y="1393.4">15.51</text><text y="1418.3">15.04</text><text y="1443.2">13.60</text><text y="1467.6">14.02</text><text y="1492.6">13.60</text><text y="1517.5">39.77</text><text y="1542.3">39.77</text><text y="1567">39.77</text><text y="1592">39.77</text><text y="1616.6">15.04</text></g>
<g class="v" transform="translate(166)"><text y="1393.4">37.14</text><text y="1418.3">36.02</text><text y="1443.2">32.57</text><text y="1467.6">33.56</text><text y="1492.6">32.57</text><text y="1517.5">95.22</text><text y="1542.3">95.22</text><text y="1567">95.22</text><text y="1592">95.22</text><text y="1616.6">36.02</text></g></g>
<!-- group 6 -->
<g transform="translate(895)"><use href="#ten" x="24"/>
<g class="l" transform="translate(24)"><text y="1393.4">39</text><text y="1418.3">40</text><text y="1443.2">41</text><text y="1467.6">42</text><text y="1492.6">43</text><text y="1517.5">44</text><text y="1542.3">45</text><text y="1567">46</text><text y="1592">47</text><text y="1616.6">48</text></g>
<g class="v" transform="translate(105.5)"><text y="1393.4">15.51</text><text y="1418.3">15.04</text><text y="1443.2">13.76</text><text y="1467.6">14.19</text><text y="1492.6">13.76</text><text y="1517.5">39.77</text><text y="1542.3">39.77</text><text y="1567">39.77</text><text y="1592">39.77</text><text y="1616.6">39.77</text></g>
<g class="v" transform="translate(166)"><text y="1393.4">37.14</text><text y="1418.3">36.02</text><text y="1443.2">32.96</text><text y="1467.6">33.96</text><text y="1492.6">32.96</text><text y="1517.5">95.22</text><text y="1542.3">95.22</text><text y="1567">95.22</text><text y="1592">95.22</text><text y="1616.6">95.22</text></g></g>
<!-- group 7 -->
<g transform="translate(1062.4)"><use href="#ten" x="24"/>
<g class="l" transform="translate(24)"><text y="1393.4">49</text><text y="1418.3">50</text><text y="1443.2">51</text><text y="1467.6">52</text><text y="1492.6">53</text><text y="1517.5">54</text><text y="1542.3">55</text><text y="1567">56</text><text y="1592">57</text><text y="1616.6">58</text></g>
<g class="v" transform="translate(105.5)"><text y="1393.4">15.04</text><text y="1418.3">15.51</text><text y="1443.2">15.04</text><text y="1467.6">33.37</text><text y="1492.6">35.43</text><text y="1517.5">36.98</text><text y="1542.3">50.00</text><text y="1567">69.72</text><text y="1592">37.94</text><text y="1616.6">18.98</text></g>
<g class="v" transform="translate(166)"><text y="1393.4">36.02</text><text y="1418.3">37.14</text><text y="1443.2">36.02</text><text y="1467.6">79.89</text><text y="1492.6">84.83</text><text y="1517.5">88.54</text><text y="1542.3">119.72</text><text y="1567">166.84</text><text y="1592">90.83</text><text y="1616.6">45.45</text></g></g>
<!-- group 8 -->
<g transform="translate(1230.2)"><use href="#ten" x="24"/>
<g class="l" transform="translate(24)"><text y="1393.4">59</text><text y="1418.3">60</text><text y="1443.2">61</text><text y="1467.6">62</text><text y="1492.6">63</text><text y="1517.5">64</text><text y="1542.3">65</text><text y="1567">66</text><text y="1592">67</text><text y="1616.6">68</text></g>
<g class="v" transform="translate(105.5)"><text y="1393.4">18.98</text><text y="1418.3">114.17</text><text y="1443.2">30.97</text><text y="1467.6">17.70</text><text y="1492.6">128.33</text><text y="1517.5">35.40</text><text y="1542.3">28.76</text><text y="1567">14.38</text><text y="1592">14.38</text><text y="1616.6">184.96</text></g>
<g class="v" transform="translate(166)"><text y="1393.4">45.45</text><text y="1418.3">274.14</text><text y="1443.2">74.15</text><text y="1467.6">42.37</text><text y="1492.6">308.26</text><text y="1517.5">84.76</text><text y="1542.3">68.85</text><text y="1567">34.44</text><text y="1592">34.41</text><text y="1616.6">443.85</text></g></g>
<!-- group 9 -->
<g transform="translate(1398)"><use href="#ten" x="24"/>
<g class="l" transform="translate(24)"><text class="s" y="1393.4">69-1</text><text class="s" y="1418.3">69-2</text><text class="s" y="1443.2">69-3</text><text y="1467.6">70</text><text class="s" y="1492.6">71-1</text><text class="s" y="1517.5">71-2</text><text y="1542.3">72</text><text y="1567">73</text><text y="1592">74</text><text y="1616.6">75</text></g>
<g class="v" transform="translate(105.5)"><text y="1418.3">70.81</text><text y="1467.6">122.57</text><text y="1505.3">86.07</text><text y="1542.3">40.79</text><text y="1567">40.79</text><text y="1592">86.07</text><text y="1616.6">45.27</text></g>
<g class="v" transform="translate(166)"><text y="1418.3">169.44</text><text y="1467.6">293.32</text><text y="1505.3">205.96</text><text y="1542.3">97.61</text><text y="1567">97.61</text><text y="1592">205.96</text><text y="1616.6">108.34</text></g></g>
<!-- group 10 -->
<g transform="translate(1565.4)"><use href="#ten" x="24"/>
<g class="l" transform="translate(24)"><text y="1393.4">76</text><text y="1418.3">77</text><text y="1443.2">78</text><text class="s" y="1467.6">79-1</text><text class="s" y="1492.6">79-2</text><text y="1517.5">80</text><text y="1542.3">81</text><text y="1567">82</text><text y="1592">83</text><text class="s" y="1616.6">84-1</text></g>
<g class="v" transform="translate(105.5)"><text y="1393.4">40.79</text><text y="1418.3">40.79</text><text y="1443.2">122.39</text><text y="1467.6">75.62</text><text y="1492.6">50.74</text><text y="1517.5">99.50</text><text y="1542.3">60.69</text><text y="1567">121.39</text><text y="1592">34.32</text></g>
<g class="v" transform="translate(166)"><text y="1393.4">97.61</text><text y="1418.3">97.61</text><text y="1443.2">292.89</text><text y="1467.6">180.97</text><text y="1492.6">121.41</text><text y="1517.5">238.11</text><text y="1542.3">145.31</text><text y="1567">290.48</text><text y="1592">82.12</text></g></g>
<!-- group 11 -->
<g transform="translate(1733.3)"><use href="#ten" x="24"/>
<g class="l" transform="translate(24)"><text class="s" y="1393.4">84-2</text><text class="s" y="1418.3">84-3</text><text y="1443.2">85</text><text y="1467.6">86</text><text y="1492.6">87</text><text y="1517.5">88</text><text y="1542.3">89</text><text y="1567">90</text><text y="1592">91</text><text y="1616.6">92</text></g>
<g class="v" transform="translate(105.5)"><text y="1393.4">128.86</text><text y="1443.2">40.79</text><text y="1467.6">122.39</text><text y="1492.6">40.79</text><text y="1517.5">45.27</text><text y="1542.3">45.27</text><text y="1567">40.79</text><text y="1592">40.79</text><text y="1616.6">40.79</text></g>
<g class="v" transform="translate(166)"><text y="1393.4">308.37</text><text y="1443.2">97.61</text><text y="1467.6">292.89</text><text y="1492.6">97.61</text><text y="1517.5">108.34</text><text y="1542.3">108.34</text><text y="1567">97.67</text><text y="1592">97.67</text><text y="1616.6">97.61</text></g></g>
<!-- group 12 -->
<g transform="translate(1900.8)">
<use href="#e" x="24" y="1389.3"/><use href="#e" x="24" y="1414"/><use href="#e" x="24" y="1439"/><use href="#e" x="24" y="1463.4"/>
<g class="l" transform="translate(24)"><text class="s" y="1393.4">93-1</text><text class="s" y="1418.3">93-2</text><text class="s" y="1443.2">93-3</text><text class="s" y="1467.6">93-4</text></g>
<g class="v" transform="translate(105.5)"><text y="1430.5">167.66</text></g>
<g class="v" transform="translate(165)"><text y="1430.5">401.21</text></g>
<text class="k" x="24" y="1605" font-size="14" text-anchor="middle">합 계</text>
<text class="k" x="55" y="1590" font-size="7">전용:</text><text class="k" x="55" y="1615" font-size="7">분양:</text>
<text x="136" y="1592" font-size="12.5" text-anchor="end">4899.85</text><text x="136" y="1616.5" font-size="12.5" text-anchor="end">11731.59</text></g>
<circle cx="1062.4" cy="1618" r="3" fill="#111"/>

<!-- title block -->
<text class="t" x="2076" y="68.5">CLIENT</text>
<text class="k" x="2094" y="115" font-size="22" textLength="204" lengthAdjust="spacingAndGlyphs">둔촌주공아파트주택</text>
<text class="k" x="2092" y="142" font-size="22" textLength="207" lengthAdjust="spacingAndGlyphs">재건축정비사업조합</text>
<path d="M2068 171.3H2323" stroke="#333" stroke-width="1.5"/>
<text class="t" x="2076" y="182">ARCHITECT</text>
<text x="2113" y="235" font-size="61" font-weight="bold" textLength="170" lengthAdjust="spacingAndGlyphs" style="fill:#1b389b">SAMOO</text>
<text x="2114" y="248" font-size="11" font-weight="bold" textLength="168" lengthAdjust="spacing" style="fill:#1b389b">ARCHITECTS &amp; ENGINEERS</text>
<text x="2092.7" y="266" font-size="9.5" textLength="206.6" style="fill:#444">1077, Cheonho-daero, Gangdong-gu, Seoul</text>
<text x="2119" y="278.5" font-size="9.5" textLength="153" xml:space="preserve" style="fill:#444">Korea, 05340.  www.samoo.com</text>
<path d="M2068 284.7H2323" stroke="#666" stroke-width="1.5"/>
<text class="t" x="2076" y="296">ARCHITECT</text>
<rect x="2090.7" y="312" width="68.3" height="68" fill="#b4b4b4"/>
<text x="2092" y="377" font-size="38" font-weight="bold" textLength="65" lengthAdjust="spacingAndGlyphs" stroke="#8a8a8a" stroke-width=".6" style="fill:#fff">JWA</text>
<text class="k" x="2179" y="328" font-size="20" textLength="121" lengthAdjust="spacingAndGlyphs">장원종합건축</text>
<text x="2300" y="343.5" font-size="10" text-anchor="end" xml:space="preserve" style="fill:#333">JANGWON  ARCHITECTS</text>
<text x="2300" y="353.5" font-size="10" text-anchor="end" style="fill:#333">&amp; ENGINEERS</text>
<text x="2199" y="366" font-size="9.5" textLength="78" style="fill:#333">T.02-3444-2515</text>
<text class="k" x="2180" y="379" font-size="9.5" textLength="117" lengthAdjust="spacingAndGlyphs">서울시 성동구 아차산로103</text>
<path d="M2068 397.7H2323" stroke="#111" stroke-width="2.5"/>
<text x="2077" y="423" font-size="12" textLength="38" style="fill:#333">NOTES</text><path d="M2077 426H2115" stroke="#333"/>

<rect x="2069.5" y="1072.3" width="252" height="28.7" fill="#bbb"/><rect x="2069.5" y="1129" width="252" height="28.3" fill="#bbb"/>
<path d="M2068 1072.3H2323M2068 1101H2323M2068 1129H2323M2068 1157.3H2323M2068 1185.7H2323M2119.7 1072.3V1185.7M2170.3 1072.3V1185.7M2221.7 1072.3V1185.7M2272.3 1072.3V1185.7" stroke="#222" fill="none"/>
<g><text class="k m" x="2094" y="1090" textLength="26" lengthAdjust="spacingAndGlyphs">사업승인</text><text class="k m" x="2145" y="1090" textLength="45" lengthAdjust="spacingAndGlyphs">(변경)사업승인</text><text class="k m" x="2196" y="1090" textLength="45" lengthAdjust="spacingAndGlyphs">경미한변경1차</text><text class="k m" x="2247" y="1090" textLength="13" lengthAdjust="spacingAndGlyphs">착공</text><text class="k m" x="2297.5" y="1090" textLength="45" lengthAdjust="spacingAndGlyphs">경미한변경2차</text><text class="k m" x="2094" y="1147" textLength="26" lengthAdjust="spacingAndGlyphs">실시설계</text><text class="k m" x="2145" y="1147" textLength="45" lengthAdjust="spacingAndGlyphs">경미한변경3차</text></g>
<circle cx="2145" cy="1171.3" r="8" fill="#000"/>
<path d="M2068 1214.3H2323M2068 1242.3H2323M2068 1270.7H2323M2068 1299H2323M2098.7 1185.7V1326.7M2132.3 1185.7V1326.7M2237 1185.7V1326.7M2265.3 1185.7V1326.7M2293.7 1185.7V1326.7" stroke="#333" fill="none"/>
<path d="M2084.3 1188L2071.5 1213H2097.5ZM2084.3 1216L2071.5 1241H2097.5ZM2084.3 1244L2071.5 1269.5H2097.5ZM2084.3 1272.5L2071.5 1298H2097.5Z" fill="#fff" stroke="#111"/>
<g class="m"><text x="2084.3" y="1204.5">4</text><text x="2084.3" y="1232.5">3</text><text x="2084.3" y="1260.5">2</text><text x="2084.3" y="1289">1</text>
<text x="2085.7" y="1315.5">REV.</text><text x="2115.7" y="1315.5">DATE</text><text x="2187" y="1315.5">DESCRIPTION</text><text x="2250.7" y="1315.5">DRN</text><text x="2280" y="1315.5">CHK</text><text x="2308" y="1315.5">APP</text></g>
<path d="M2068 1327H2323" stroke="#111" stroke-width="3"/>
<text class="t" x="2076" y="1338">PROJECT TITLE</text>
<text class="k" x="2153" y="1352.5" font-size="20.5" textLength="131" lengthAdjust="spacingAndGlyphs">둔촌주공아파트</text>
<text class="k" x="2135" y="1375.5" font-size="20.5" textLength="169" lengthAdjust="spacingAndGlyphs">주택재건축정비사업</text>
<text class="t" x="2076" y="1378">NO.</text>
<path d="M2068 1383.3H2323" stroke="#333" stroke-width="1.5"/>
<text class="t" x="2076" y="1393">DRAWING TITLE</text>
<text class="k" x="2096.7" y="1411" font-size="21" textLength="198.3" lengthAdjust="spacingAndGlyphs" style="fill:#999">5호선 상가 3층 평면도</text>
<text class="k" x="2105" y="1431" font-size="20" textLength="182" lengthAdjust="spacingAndGlyphs" style="fill:#999">(판매 및 근린생활시설-1)</text>
<path d="M2068 1440H2323" stroke="#222" stroke-width="2.5"/>
<text class="t" x="2076" y="1451">CHECKED BY/ DATE</text><text class="t" x="2202.7" y="1451">APPROVED BY/ DATE</text>
<path d="M2196.3 1440V1550M2068 1477.3H2323M2068 1513.7H2323" stroke="#333" fill="none"/>
<text class="t" x="2076" y="1487">PROJECT ARCHITECT</text><text class="t" x="2202.7" y="1487">PROJECT MANAGER</text>
<text class="t" x="2076" y="1524">ENGINEER</text><text class="t" x="2202.7" y="1524">DRAWN BY/ DATE</text>
<text x="2248.7" y="1542.5" font-size="13" textLength="45.3" style="fill:#333">2023.03</text>
<path d="M2068 1550.7H2323" stroke="#222" stroke-width="2.5"/>
<text class="t" x="2076" y="1561">SCALE</text>
<text x="2168" y="1568.5" font-size="12" xml:space="preserve" style="fill:#333">A1 : <tspan style="fill:#aaa">1/400</tspan></text>
<text x="2168" y="1582.5" font-size="12" xml:space="preserve" style="fill:#333">A3 : <tspan style="fill:#aaa">1/800</tspan></text>
<path d="M2068 1587.7H2323M2285.7 1587.7V1625" stroke="#333" fill="none"/>
<text class="t" x="2076" y="1598">DRAWNG NO.</text><text class="t" x="2291" y="1598">REV.</text>
<text x="2130" y="1613.5" font-size="21" textLength="92" style="fill:#999">A51-0007</text>
<text x="2303" y="1617" font-size="20" text-anchor="middle" style="fill:#222">0</text>
</svg>
</body></html>
